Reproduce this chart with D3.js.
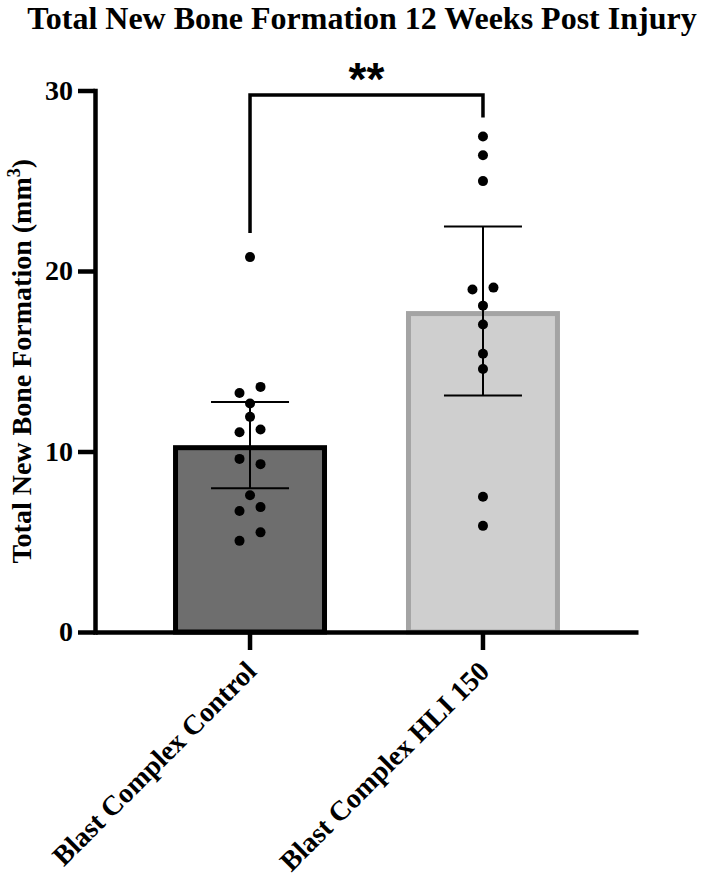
<!DOCTYPE html>
<meta charset="utf-8">
<style>
  body { margin: 0; background: #fff; }
  text { font-family: "Liberation Serif", "Times New Roman", serif; font-weight: bold; fill: #000; }
  .axis path, .axis line { stroke: #000; stroke-width: 4.5; }
  .axis text { font-size: 28px; }
</style>
<script src="https://d3js.org/d3.v7.min.js"></script>
<div id="chart"></div>
<script>
  // groups and measured values (mm^3)
  const groups = ["Blast Complex Control", "Blast Complex HLI 150"];
  const controlValues = [20.77, 13.24, 13.58, 12.66, 11.92, 11.07, 11.22, 9.59, 9.30, 7.58, 6.70, 6.92, 5.05, 5.52];
  const hliValues = [27.45, 26.41, 24.98, 18.98, 19.08, 18.08, 17.04, 15.42, 14.57, 7.49, 5.88];
  const means = [10.35, 17.78];
  const ciLow = [7.97, 13.10];
  const ciHigh = [12.74, 22.47];
  const yTicks = [0, 10, 20, 30];
  const barFill = ["#6e6e6e", "#cfcfcf"];
  const barStroke = ["#000000", "#a4a4a4"];
  const sigLabel = "**";

  const W = 708, H = 880;
  const svg = d3.select("#chart").append("svg")
    .attr("width", W).attr("height", H);

  const y = d3.scaleLinear().domain([0, 30]).range([632, 90.5]);
  const x = d3.scaleBand().domain(groups).range([95, 638])
    .paddingInner(0.339).paddingOuter(0.335);

  // title
  svg.append("text")
    .attr("x", 362).attr("y", 29)
    .attr("text-anchor", "middle")
    .style("font-size", "32px")
    .text("Total New Bone Formation 12 Weeks Post Injury");

  // bars (border drawn inside the bar outline)
  const sw = 5;
  svg.selectAll(".bar")
    .data(groups)
    .join("rect")
    .attr("class", "bar")
    .attr("x", d => x(d) + sw / 2)
    .attr("width", x.bandwidth() - sw)
    .attr("y", (d, i) => y(means[i]) + sw / 2)
    .attr("height", (d, i) => y(0) - y(means[i]) - sw / 2)
    .attr("fill", (d, i) => barFill[i])
    .attr("stroke", (d, i) => barStroke[i])
    .attr("stroke-width", sw);

  // error bars (95% CI)
  const cap = 39;
  const eb = svg.append("g").attr("stroke", "#000").attr("stroke-width", 2);
  groups.forEach((g, i) => {
    const cx = x(g) + x.bandwidth() / 2;
    eb.append("line").attr("x1", cx).attr("x2", cx).attr("y1", y(ciLow[i])).attr("y2", y(ciHigh[i]));
    eb.append("line").attr("x1", cx - cap).attr("x2", cx + cap).attr("y1", y(ciHigh[i])).attr("y2", y(ciHigh[i]));
    eb.append("line").attr("x1", cx - cap).attr("x2", cx + cap).attr("y1", y(ciLow[i])).attr("y2", y(ciLow[i]));
  });

  // scatter points, spread sideways when they would overlap
  const r = 5, gap = 21;
  function spread(values) {
    const idx = values.map((v, i) => i).sort((a, b) => values[a] - values[b]);
    const offs = values.map(() => 0);
    let i = 0;
    while (i < idx.length) {
      const grp = [idx[i]];
      let j = i + 1;
      while (j < idx.length && Math.abs(y(values[idx[j]]) - y(values[idx[i]])) < 2 * r) { grp.push(idx[j]); j++; }
      grp.sort((a, b) => a - b);
      grp.forEach((k, m) => offs[k] = (m - (grp.length - 1) / 2) * gap);
      i = j;
    }
    return offs;
  }
  [controlValues, hliValues].forEach((vals, gi) => {
    const cx = x(groups[gi]) + x.bandwidth() / 2;
    const offs = spread(vals);
    svg.append("g").selectAll("circle")
      .data(vals)
      .join("circle")
      .attr("cx", (d, i) => cx + offs[i])
      .attr("cy", d => y(d))
      .attr("r", r)
      .attr("fill", "#000");
  });

  // axes
  const yAxis = svg.append("g").attr("class", "axis")
    .attr("transform", "translate(95,0)")
    .call(d3.axisLeft(y).tickValues(yTicks).tickSize(17).tickSizeOuter(0).tickPadding(5));
  const xAxis = svg.append("g").attr("class", "axis")
    .attr("transform", `translate(0,${y(0)})`)
    .call(d3.axisBottom(x).tickSize(18).tickSizeOuter(0));
  xAxis.selectAll("text")
    .attr("text-anchor", "end")
    .attr("y", 0).attr("dy", 0)
    .attr("transform", "translate(8,41) rotate(-45)");
  yAxis.select(".domain").attr("stroke-linecap", "square");

  // y axis title
  const yl = svg.append("text")
    .attr("transform", `translate(31,${(y(0) + y(30)) / 2}) rotate(-90)`)
    .attr("text-anchor", "middle")
    .style("font-size", "28px");
  yl.append("tspan").text("Total New Bone Formation (mm");
  yl.append("tspan").attr("dy", -11).style("font-size", "18px").text("3");
  yl.append("tspan").attr("dy", 11).text(")");

  // significance bracket
  const bracketY = y(29.75);
  const c0 = x(groups[0]) + x.bandwidth() / 2, c1 = x(groups[1]) + x.bandwidth() / 2;
  const leg0 = y(d3.max(controlValues)) - 24, leg1 = y(d3.max(hliValues)) - 19;
  svg.append("path")
    .attr("d", `M${c0},${leg0}V${bracketY}H${c1}V${leg1}`)
    .attr("fill", "none").attr("stroke", "#000").attr("stroke-width", 3.5);
  svg.append("text")
    .attr("x", (c0 + c1) / 2).attr("y", 95)
    .attr("text-anchor", "middle")
    .style("font-family", "'Liberation Sans', Arial, sans-serif")
    .style("font-size", "46px")
    .text(sigLabel);
</script>
